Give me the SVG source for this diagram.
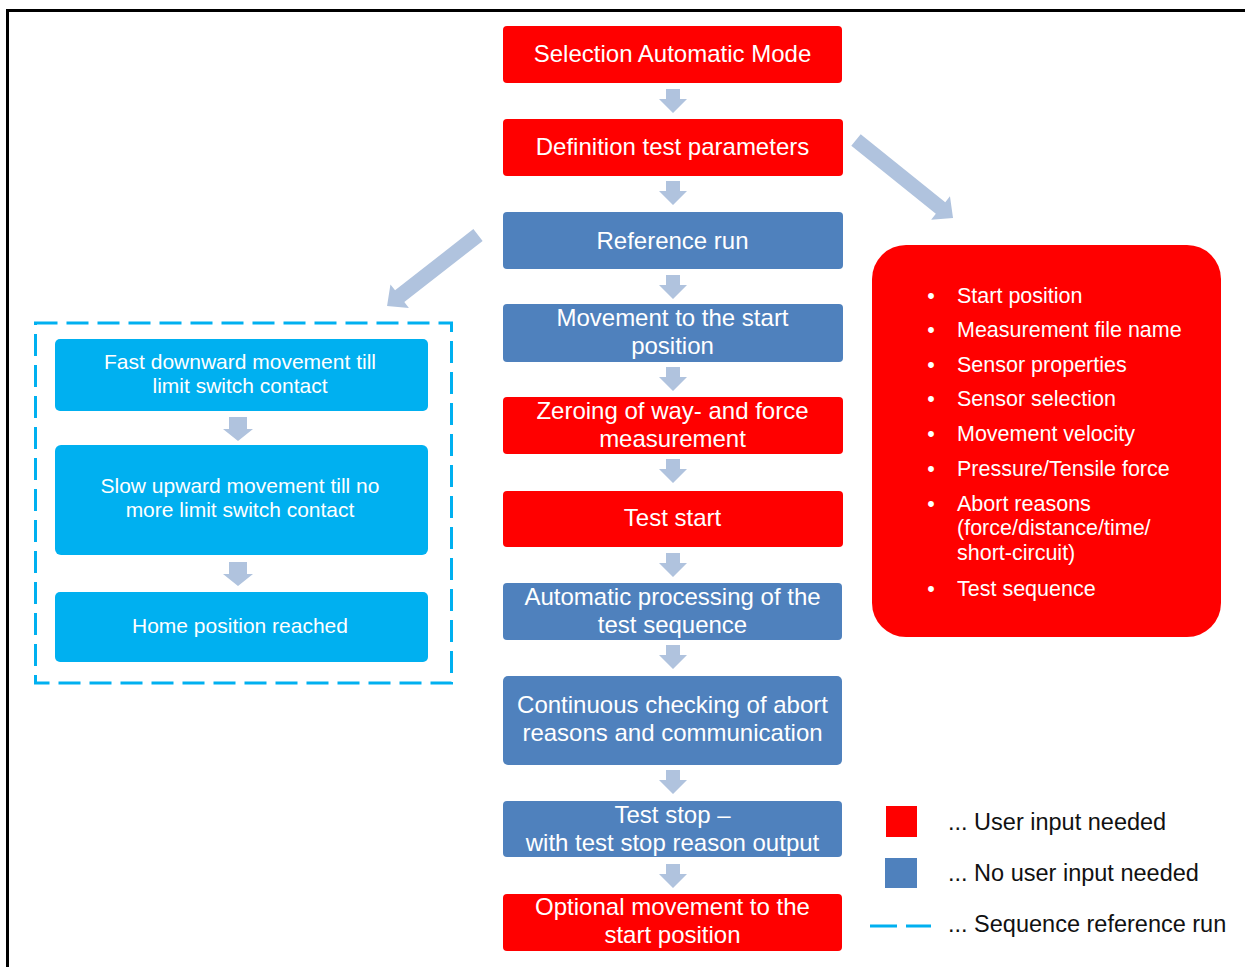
<svg xmlns="http://www.w3.org/2000/svg" width="1245" height="967" viewBox="0 0 1245 967">
  <style>
    .red { fill: #FF0000; }
    .blue { fill: #4F81BD; }
    .cyan { fill: #00B0F0; }
    .arrow { fill: #B0C3DE; }
    .t { font-family: "Liberation Sans", Arial, sans-serif; fill: #FFFFFF; text-anchor: middle; }
    .main { font-size: 24px; }
    .side { font-size: 21px; }
    .list { font-family: "Liberation Sans", Arial, sans-serif; fill: #FFFFFF; font-size: 21.5px; }
    .legend { font-family: "Liberation Sans", Arial, sans-serif; fill: #111111; font-size: 23.5px; }
  </style>
  <defs>
    <path id="down" d="M-7,0 H7 V10 H14 L0,24 L-14,10 H-7 Z"/>
    <path id="downWide" d="M-9,0 H9 V12 H15 L0,24 L-15,12 H-9 Z"/>
  </defs>

  <rect width="1245" height="967" fill="#FFFFFF"/>
  <!-- frame -->
  <path d="M7.5,967 V10.5 H1245" fill="none" stroke="#000000" stroke-width="3"/>

  <!-- connectors -->
  <g id="connectors" class="arrow">
    <use href="#down" x="673" y="89"/>
    <use href="#down" x="673" y="181"/>
    <use href="#down" x="673" y="275"/>
    <use href="#down" x="673" y="367"/>
    <use href="#down" x="673" y="459"/>
    <use href="#down" x="673" y="553"/>
    <use href="#down" x="673" y="645"/>
    <use href="#down" x="673" y="770"/>
    <use href="#down" x="673" y="864"/>
    <use href="#downWide" x="238" y="417"/>
    <use href="#downWide" x="238" y="562"/>
    <path d="M0,-7.5 H108.5 V-15 L124.5,0 L108.5,15 V7.5 H0 Z" transform="translate(856,140) rotate(38.8)"/>
    <path d="M0,-7.5 H99.4 V-15 L115.4,0 L99.4,15 V7.5 H0 Z" transform="translate(478,235) rotate(142)"/>
  </g>

  <!-- main sequence -->
  <g id="n-selection">
    <rect class="red" x="503" y="26" width="339" height="57" rx="4"/>
    <text class="t main" x="672.5" y="62">Selection Automatic Mode</text>
  </g>
  <g id="n-definition">
    <rect class="red" x="503" y="119" width="340" height="57" rx="4"/>
    <text class="t main" x="672.5" y="155">Definition test parameters</text>
  </g>
  <g id="n-reference">
    <rect class="blue" x="503" y="212" width="340" height="57" rx="4"/>
    <text class="t main" x="672.5" y="249">Reference run</text>
  </g>
  <g id="n-movement">
    <rect class="blue" x="503" y="304" width="340" height="58" rx="4"/>
    <text class="t main" x="672.5" y="326">Movement to the start</text>
    <text class="t main" x="672.5" y="354">position</text>
  </g>
  <g id="n-zeroing">
    <rect class="red" x="503" y="397" width="340" height="57" rx="4"/>
    <text class="t main" x="672.5" y="419">Zeroing of way- and force</text>
    <text class="t main" x="672.5" y="447">measurement</text>
  </g>
  <g id="n-teststart">
    <rect class="red" x="503" y="491" width="340" height="56" rx="4"/>
    <text class="t main" x="672.5" y="526">Test start</text>
  </g>
  <g id="n-automatic">
    <rect class="blue" x="503" y="583" width="339" height="57" rx="4"/>
    <text class="t main" x="672.5" y="605">Automatic processing of the</text>
    <text class="t main" x="672.5" y="633">test sequence</text>
  </g>
  <g id="n-continuous">
    <rect class="blue" x="503" y="676" width="339" height="89" rx="5"/>
    <text class="t main" x="672.5" y="713">Continuous checking of abort</text>
    <text class="t main" x="672.5" y="741">reasons and communication</text>
  </g>
  <g id="n-teststop">
    <rect class="blue" x="503" y="801" width="339" height="56" rx="4"/>
    <text class="t main" x="672.5" y="823">Test stop –</text>
    <text class="t main" x="672.5" y="851">with test stop reason output</text>
  </g>
  <g id="n-optional">
    <rect class="red" x="503" y="894" width="339" height="57" rx="4"/>
    <text class="t main" x="672.5" y="915">Optional movement to the</text>
    <text class="t main" x="672.5" y="943">start position</text>
  </g>

  <!-- reference run sequence -->
  <g id="n-refgroup">
    <rect x="35.5" y="323" width="416" height="360" fill="none" stroke="#00B0F0" stroke-width="3" stroke-dasharray="22 9"/>
  </g>
  <g id="n-fast">
    <rect class="cyan" x="55" y="339" width="373" height="72" rx="5"/>
    <text class="t side" x="240" y="369">Fast downward movement till</text>
    <text class="t side" x="240" y="393">limit switch contact</text>
  </g>
  <g id="n-slow">
    <rect class="cyan" x="55" y="445" width="373" height="110" rx="6"/>
    <text class="t side" x="240" y="493">Slow upward movement till no</text>
    <text class="t side" x="240" y="517">more limit switch contact</text>
  </g>
  <g id="n-home">
    <rect class="cyan" x="55" y="592" width="373" height="70" rx="5"/>
    <text class="t side" x="240" y="633">Home position reached</text>
  </g>

  <!-- test parameters -->
  <g id="n-parameters">
    <rect class="red" x="872" y="245" width="349" height="392" rx="34"/>
    <g class="list">
      <text x="931" y="303" text-anchor="middle">•</text><text x="957" y="303">Start position</text>
      <text x="931" y="337" text-anchor="middle">•</text><text x="957" y="337">Measurement file name</text>
      <text x="931" y="372" text-anchor="middle">•</text><text x="957" y="372">Sensor properties</text>
      <text x="931" y="406" text-anchor="middle">•</text><text x="957" y="406">Sensor selection</text>
      <text x="931" y="441" text-anchor="middle">•</text><text x="957" y="441">Movement velocity</text>
      <text x="931" y="476" text-anchor="middle">•</text><text x="957" y="476">Pressure/Tensile force</text>
      <text x="931" y="511" text-anchor="middle">•</text><text x="957" y="511">Abort reasons</text>
      <text x="957" y="535">(force/distance/time/</text>
      <text x="957" y="560">short-circuit)</text>
      <text x="931" y="596" text-anchor="middle">•</text><text x="957" y="596">Test sequence</text>
    </g>
  </g>

  <!-- legend -->
  <g id="legend">
    <rect class="red" x="886" y="806" width="31" height="31"/>
    <rect class="blue" x="885" y="858" width="32" height="30"/>
    <line x1="870" y1="926" x2="931" y2="926" stroke="#00B0F0" stroke-width="3" stroke-dasharray="27 9"/>
    <text class="legend" x="948" y="830">... User input needed</text>
    <text class="legend" x="948" y="881">... No user input needed</text>
    <text class="legend" x="948" y="932">... Sequence reference run</text>
  </g>
</svg>
